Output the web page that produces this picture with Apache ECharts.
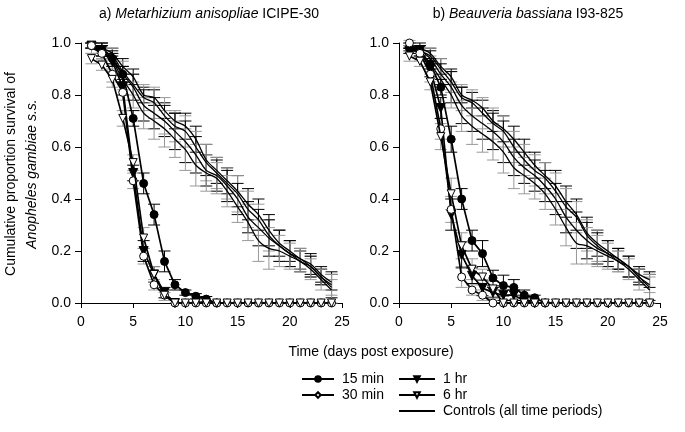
<!DOCTYPE html>
<html><head><meta charset="utf-8">
<script src="https://cdn.jsdelivr.net/npm/echarts@6/dist/echarts.min.js"></script>
<style>html,body{margin:0;padding:0;background:#fff}#c{width:685px;height:432px}</style>
</head><body><div id="c"></div>
<script>
const days = [1,2,3,4,5,6,7,8,9,10,11,12,13,14,15,16,17,18,19,20,21,22,23,24];
const xTicks = [0,5,10,15,20,25];
const yTicks = [0,0.2,0.4,0.6,0.8,1.0];

// Panel a) Metarhizium anisopliae ICIPE-30
const a15 = [0.99,0.97,0.94,0.88,0.71,0.46,0.34,0.16,0.07,0.04,0.026,0.015,0];
const a30 = [0.99,0.96,0.88,0.81,0.47,0.18,0.07,0.03,0,0,0,0,0,0,0,0,0,0,0,0,0,0,0,0];
const a1h = [0.99,0.97,0.93,0.83,0.50,0.20,0.11,0.04,0];
const a6h = [0.94,0.915,0.86,0.71,0.54,0.25,0.11,0.03,0,0,0,0,0,0,0,0,0,0,0,0,0,0,0,0];
const aC1 = [0.99,0.98,0.96,0.91,0.87,0.80,0.79,0.74,0.70,0.68,0.63,0.55,0.51,0.47,0.43,0.38,0.34,0.28,0.23,0.20,0.17,0.15,0.11,0.08];
const aC2 = [0.99,0.97,0.95,0.89,0.84,0.79,0.77,0.72,0.68,0.66,0.60,0.54,0.50,0.46,0.42,0.36,0.32,0.26,0.22,0.19,0.17,0.14,0.10,0.06];
const aC3 = [0.99,0.98,0.94,0.88,0.83,0.76,0.73,0.70,0.66,0.62,0.57,0.51,0.49,0.45,0.40,0.33,0.29,0.25,0.22,0.19,0.16,0.14,0.10,0.07];
const aC4 = [0.98,0.96,0.93,0.86,0.80,0.73,0.70,0.67,0.63,0.59,0.53,0.50,0.48,0.43,0.37,0.31,0.24,0.21,0.20,0.18,0.16,0.13,0.09,0.05];
const ea15 = [0.01,0.02,0.02,0.03,0.03,0.04,0.04,0.04,0.02,0.01,0.01,0.01,0];
const ea30 = [0.01,0.02,0.03,0.03,0.03,0.03,0.02,0.01,0,0,0,0,0,0,0,0,0,0,0,0,0,0,0,0];
const ea1h = [0.01,0.02,0.02,0.03,0.03,0.04,0.03,0.02,0];
const ea6h = [0.02,0.02,0.03,0.03,0.03,0.04,0.03,0.02,0,0,0,0,0,0,0,0,0,0,0,0,0,0,0,0];
const eaC1 = [0.01,0.02,0.02,0.03,0.03,0.03,0.03,0.03,0.03,0.05,0.05,0.06,0.05,0.05,0.06,0.06,0.06,0.06,0.05,0.04,0.04,0.04,0.03,0.03];
const eaC2 = [0.01,0.02,0.03,0.04,0.04,0.05,0.06,0.07,0.06,0.06,0.06,0.07,0.06,0.06,0.07,0.07,0.06,0.06,0.06,0.05,0.04,0.04,0.03,0.03];
const eaC3 = [0.01,0.02,0.03,0.03,0.05,0.06,0.06,0.06,0.07,0.08,0.07,0.06,0.06,0.06,0.06,0.06,0.07,0.07,0.06,0.05,0.04,0.04,0.03,0.05];
const eaC4 = [0.02,0.03,0.03,0.04,0.05,0.06,0.07,0.07,0.07,0.08,0.08,0.07,0.06,0.06,0.06,0.07,0.08,0.08,0.06,0.05,0.04,0.04,0.04,0.06];

// Panel b) Beauveria bassiana I93-825
const b15 = [0.98,0.97,0.92,0.83,0.63,0.40,0.24,0.19,0.096,0.067,0.06,0.03,0.02,0];
const b30 = [1.0,0.96,0.88,0.67,0.36,0.10,0.05,0.03,0,0,0,0,0,0,0,0,0,0,0,0,0,0,0,0];
const b1h = [0.97,0.97,0.90,0.75,0.34,0.185,0.105,0.058,0.04,0.03,0.03,0.01,0];
const b6h = [0.95,0.93,0.85,0.64,0.42,0.22,0.13,0.10,0.054,0,0,0,0,0,0,0,0,0,0,0,0,0,0,0];
const bC1 = [0.99,0.98,0.96,0.91,0.87,0.80,0.78,0.75,0.70,0.67,0.63,0.58,0.53,0.49,0.45,0.39,0.34,0.27,0.23,0.20,0.17,0.14,0.11,0.09];
const bC2 = [0.99,0.97,0.95,0.90,0.85,0.79,0.77,0.73,0.69,0.66,0.60,0.55,0.51,0.48,0.43,0.37,0.33,0.26,0.22,0.19,0.16,0.14,0.10,0.07];
const bC3 = [0.99,0.97,0.94,0.88,0.83,0.76,0.72,0.69,0.66,0.62,0.56,0.52,0.49,0.45,0.40,0.33,0.28,0.24,0.21,0.19,0.17,0.14,0.10,0.06];
const bC4 = [0.98,0.96,0.92,0.86,0.80,0.72,0.68,0.65,0.62,0.58,0.52,0.49,0.46,0.42,0.36,0.29,0.23,0.22,0.20,0.18,0.16,0.13,0.09,0.05];
const eb15 = [0.01,0.02,0.02,0.03,0.05,0.04,0.04,0.05,0.03,0.04,0.03,0.02,0.01,0];
const eb30 = [0.01,0.02,0.03,0.04,0.05,0.04,0.02,0.02,0,0,0,0,0,0,0,0,0,0,0,0,0,0,0,0];
const eb1h = [0.01,0.02,0.03,0.04,0.06,0.05,0.03,0.03,0.02,0.02,0.02,0.01,0];
const eb6h = [0.02,0.02,0.03,0.05,0.06,0.05,0.04,0.03,0.03,0,0,0,0,0,0,0,0,0,0,0,0,0,0,0];
const ebC1 = [0.01,0.02,0.02,0.03,0.03,0.03,0.03,0.03,0.04,0.05,0.05,0.05,0.05,0.05,0.06,0.06,0.06,0.06,0.05,0.04,0.04,0.04,0.03,0.03];
const ebC2 = [0.01,0.02,0.03,0.04,0.04,0.05,0.05,0.06,0.06,0.06,0.06,0.06,0.06,0.06,0.07,0.07,0.06,0.06,0.06,0.05,0.04,0.04,0.03,0.03];
const ebC3 = [0.01,0.02,0.03,0.04,0.06,0.07,0.06,0.06,0.07,0.08,0.07,0.06,0.06,0.06,0.06,0.06,0.07,0.07,0.06,0.05,0.04,0.04,0.03,0.05];
const ebC4 = [0.02,0.03,0.03,0.04,0.05,0.06,0.07,0.07,0.07,0.08,0.08,0.07,0.06,0.06,0.06,0.07,0.08,0.07,0.06,0.05,0.04,0.04,0.04,0.06];

const names = ['15 min','30 min','1 hr','6 hr','Controls (all time periods)'];
const FONT = 'Liberation Sans, Arial, sans-serif';

function pts(vals){ return vals.map((v,i)=>[days[i], v]); }
function errPts(vals, errs){ return vals.map((v,i)=>[days[i], v, errs[i]]).filter(p=>p[2]>0); }

function errSeries(gi, vals, errs, color){
  return {
    type:'custom', xAxisIndex:gi, yAxisIndex:gi, silent:true, z:3,
    data: errPts(vals, errs),
    renderItem:function(params, api){
      const x = api.value(0), y = api.value(1), e = api.value(2);
      const lo = api.coord([x, Math.max(0,y-e)]);
      const hi = api.coord([x, y+e]);
      const w = 6;
      const st = {stroke:color, lineWidth:1};
      return {type:'group', children:[
        {type:'line', shape:{x1:lo[0],y1:lo[1],x2:hi[0],y2:hi[1]}, style:st},
        {type:'line', shape:{x1:lo[0]-w,y1:lo[1],x2:lo[0]+w,y2:lo[1]}, style:st},
        {type:'line', shape:{x1:hi[0]-w,y1:hi[1],x2:hi[0]+w,y2:hi[1]}, style:st}
      ]};
    }
  };
}
function treat(gi, name, vals, symbol, filled, rotate, size, z){
  return {
    type:'line', name:name, xAxisIndex:gi, yAxisIndex:gi, z:z,
    data: pts(vals), symbol:symbol, symbolSize:size, symbolRotate:rotate,
    showAllSymbol:true,
    lineStyle:{color:'#000', width:1.7},
    itemStyle:{color: filled ? '#000' : '#fff', borderColor:'#000', borderWidth:1},
    emphasis:{disabled:true}, animation:false
  };
}
function ctrl(gi, vals){
  return {
    type:'line', name:names[4], xAxisIndex:gi, yAxisIndex:gi, z:4,
    data: pts(vals), symbol:'none', smooth:0.3,
    lineStyle:{color:'#000', width:1.3}, itemStyle:{color:'rgba(0,0,0,0)'},
    emphasis:{disabled:true}, animation:false
  };
}
// legend glyph for "30 min" (diamond in the key)
const legendGlyph30 = {type:'line', name:names[1], xAxisIndex:0, yAxisIndex:0, data:[], symbol:'diamond',
  lineStyle:{color:'#000', width:1.2}, itemStyle:{color:'#fff', borderColor:'#000', borderWidth:1}};

function panel(gi, t15,t30,t1h,t6h,c1,c2,c3,c4, e15,e30,e1h,e6h,ec1,ec2,ec3,ec4){
  return [
    ctrl(gi,c1), ctrl(gi,c2), ctrl(gi,c3), ctrl(gi,c4),
    errSeries(gi,c1,ec1,'#000'), errSeries(gi,c2,ec2,'#999'),
    errSeries(gi,c3,ec3,'#000'), errSeries(gi,c4,ec4,'#999'),
    errSeries(gi,t15,e15,'#000'), errSeries(gi,t30,e30,'#999'),
    errSeries(gi,t1h,e1h,'#000'), errSeries(gi,t6h,e6h,'#999'),
    treat(gi,names[0],t15,'circle',true,0,8,5),
    treat(gi,names[2],t1h,'triangle',true,180,9,6),
    treat(gi,names[1],t30,'circle',false,0,8,7),
    treat(gi,names[3],t6h,'triangle',false,180,8,8)
  ];
}
const axisTxt = {color:'#000', fontFamily:FONT, fontSize:14};
function xAx(gi){
  return {type:'value', gridIndex:gi, min:xTicks[0], max:xTicks[xTicks.length-1], interval:5,
    axisLine:{lineStyle:{color:'#000', width:1}}, axisTick:{show:true, length:5, lineStyle:{color:'#000'}},
    axisLabel:Object.assign({margin:12}, axisTxt), splitLine:{show:false}};
}
function yAx(gi){
  return {type:'value', gridIndex:gi, min:yTicks[0], max:yTicks[yTicks.length-1], interval:0.2,
    axisLine:{show:true, lineStyle:{color:'#000', width:1}}, axisTick:{show:true, length:6, lineStyle:{color:'#000'}},
    axisLabel:Object.assign({margin:10, formatter:v=>v.toFixed(1)}, axisTxt), splitLine:{show:false}};
}
const legendText = {color:'#000', fontFamily:FONT, fontSize:14};
const rich14 = {n:{fontFamily:FONT,fontSize:14,fill:'#000'}, i:{fontFamily:FONT,fontSize:14,fontStyle:'italic',fill:'#000'}};
const option = {
  backgroundColor:'#fff',
  animation:false,
  grid:[
    {left:81, top:43, width:261, height:260},
    {left:399, top:43, width:261, height:260}
  ],
  xAxis:[xAx(0), xAx(1)],
  yAxis:[yAx(0), yAx(1)],
  legend:[
    {data:[names[0],names[1]], orient:'vertical', left:301, top:372, height:60, padding:0,
     itemWidth:32, itemHeight:7, itemGap:2, textStyle:Object.assign({padding:[0,0,0,3]}, legendText), selectedMode:false},
    {data:[names[2],names[3],names[4]], orient:'vertical', left:398, top:372, height:60, padding:0,
     itemWidth:36, itemHeight:7, itemGap:2, textStyle:Object.assign({padding:[0,0,0,3]}, legendText), selectedMode:false}
  ],
  graphic:[
    {type:'text', x:209, y:14, style:{text:'{n|a) }{i|Metarhizium anisopliae}{n| ICIPE-30}', rich:rich14,
      align:'center', verticalAlign:'middle'}},
    {type:'text', x:528, y:14, style:{text:'{n|b) }{i|Beauveria bassiana}{n| I93-825}', rich:rich14,
      align:'center', verticalAlign:'middle'}},
    {type:'text', x:11, y:174, rotation:Math.PI/2, style:{text:'Cumulative proportion survival of',
      fontFamily:FONT, fontSize:14, fill:'#000', align:'center', verticalAlign:'middle'}},
    {type:'text', x:32, y:174, rotation:Math.PI/2, style:{text:'{i|Anopheles gambiae s.s.}',
      rich:rich14, align:'center', verticalAlign:'middle'}},
    {type:'text', x:371, y:352, style:{text:'Time (days post exposure)', fontFamily:FONT, fontSize:14,
      fill:'#000', align:'center', verticalAlign:'middle'}}
  ],
  series:[legendGlyph30].concat(
    panel(0, a15,a30,a1h,a6h,aC1,aC2,aC3,aC4, ea15,ea30,ea1h,ea6h,eaC1,eaC2,eaC3,eaC4),
    panel(1, b15,b30,b1h,b6h,bC1,bC2,bC3,bC4, eb15,eb30,eb1h,eb6h,ebC1,ebC2,ebC3,ebC4)
  )
};
const chart = echarts.init(document.getElementById('c'), null, {renderer:'canvas'});
chart.setOption(option);
</script></body></html>
